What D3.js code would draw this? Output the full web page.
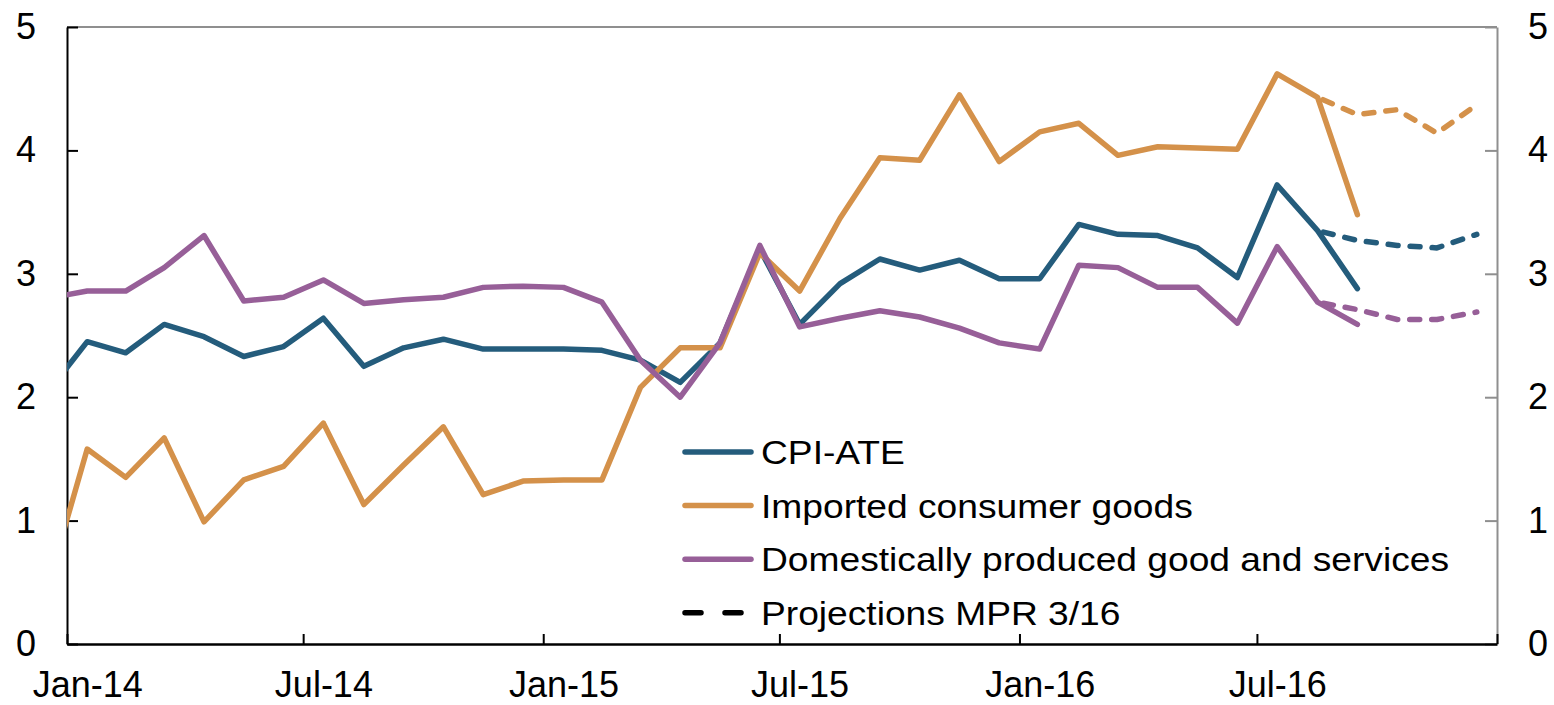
<!DOCTYPE html>
<html>
<head>
<meta charset="utf-8">
<script src="https://cdnjs.cloudflare.com/ajax/libs/d3/7.8.5/d3.min.js"></script>
<style>
  body { margin: 0; background: #fff; }
  text { font-family: "Liberation Sans", Arial, sans-serif; fill: #000; }
</style>
</head>
<body>
<div id="chart"></div>
<script>
// monthly values, first one is Dec-13 (left of the axis, gets clipped)
const firstMonth = new Date(2013, 11, 1);
const cpiAte = [2.03, 2.45, 2.36, 2.59, 2.49, 2.33, 2.41, 2.64, 2.25, 2.40, 2.47, 2.39, 2.39,
                2.39, 2.38, 2.30, 2.12, 2.44, 3.20, 2.59, 2.92, 3.12, 3.03, 3.11, 2.96,
                2.96, 3.40, 3.32, 3.31, 3.21, 2.97, 3.72, 3.35, 2.88];
const imported = [0.44, 1.58, 1.35, 1.67, 0.99, 1.33, 1.44, 1.79, 1.13, 1.45, 1.76, 1.21, 1.32,
                  1.33, 1.33, 2.08, 2.40, 2.40, 3.17, 2.86, 3.45, 3.94, 3.92, 4.45, 3.91,
                  4.15, 4.22, 3.96, 4.03, 4.02, 4.01, 4.62, 4.43, 3.48];
const domestic = [2.80, 2.86, 2.86, 3.05, 3.31, 2.78, 2.81, 2.95, 2.76, 2.79, 2.81, 2.89, 2.90,
                  2.89, 2.77, 2.30, 2.00, 2.44, 3.23, 2.57, 2.64, 2.70, 2.65, 2.56, 2.44,
                  2.39, 3.07, 3.05, 2.89, 2.89, 2.60, 3.22, 2.77, 2.59];

// projections MPR 3/16, Aug-16 to Dec-16
const projStart = new Date(2016, 7, 1);
const projCpiAte = [3.35, 3.27, 3.23, 3.21, 3.32];
const projImported = [4.43, 4.29, 4.33, 4.14, 4.37];
const projDomestic = [2.77, 2.71, 2.63, 2.63, 2.69];

const seriesNames = ["CPI-ATE", "Imported consumer goods", "Domestically produced good and services"];
const seriesColors = ["#245c7c", "#d4914a", "#975f98"];
const projName = "Projections MPR 3/16";
const yTicks = [0, 1, 2, 3, 4, 5];

const width = 1554;
const height = 705;
const plotLeft = 67, plotRight = 1497, plotTop = 27, plotBottom = 644;

const svg = d3.select("#chart").append("svg")
  .attr("width", width)
  .attr("height", height);

const x = d3.scaleTime()
  .domain([new Date(2014, 0, 1), new Date(2017, 0, 1)])
  .range([plotLeft, plotRight]);

const y = d3.scaleLinear()
  .domain([0, 5])
  .range([plotBottom, plotTop]);

// points sit in the middle of their month
function midMonth(d) {
  const next = d3.timeMonth.offset(d, 1);
  return new Date((d.getTime() + next.getTime()) / 2);
}

function toPoints(start, values) {
  return values.map((v, i) => ({ date: d3.timeMonth.offset(start, i), value: v }));
}

const line = d3.line()
  .x(d => x(midMonth(d.date)))
  .y(d => y(d.value));

svg.append("clipPath")
  .attr("id", "plot-clip")
  .append("rect")
  .attr("x", plotLeft)
  .attr("y", 0)
  .attr("width", plotRight - plotLeft)
  .attr("height", height);

// frame: top and right in grey
svg.append("line")
  .attr("x1", plotLeft).attr("x2", plotRight)
  .attr("y1", plotTop).attr("y2", plotTop)
  .attr("stroke", "#8f8f8f")
  .attr("stroke-width", 2);

// right axis
const rightAxis = svg.append("g")
  .attr("transform", `translate(${plotRight},0)`)
  .call(d3.axisRight(y).tickValues(yTicks).tickFormat(d3.format("d"))
    .tickSizeInner(-12).tickSizeOuter(0).tickPadding(31));
rightAxis.select(".domain").attr("stroke", "#8f8f8f").attr("stroke-width", 2);
rightAxis.selectAll(".tick line").attr("stroke", "#8f8f8f").attr("stroke-width", 2);
rightAxis.selectAll("text").style("font-size", "36px").attr("fill", "#000");

// left axis
const leftAxis = svg.append("g")
  .attr("transform", `translate(${plotLeft},0)`)
  .call(d3.axisLeft(y).tickValues(yTicks).tickFormat(d3.format("d"))
    .tickSizeInner(-11).tickSizeOuter(0).tickPadding(31));
leftAxis.select(".domain").attr("stroke", "#000").attr("stroke-width", 2);
leftAxis.selectAll(".tick line").attr("stroke", "#000").attr("stroke-width", 2);
leftAxis.selectAll("text").style("font-size", "36px").attr("fill", "#000");

// bottom axis: tick marks at half-year boundaries, labels under the month
const xTicks = d3.timeMonth.every(6).range(new Date(2014, 0, 1), new Date(2017, 0, 2));
const bottomAxis = svg.append("g")
  .attr("transform", `translate(0,${plotBottom})`)
  .call(d3.axisBottom(x)
    .tickValues(xTicks)
    .tickSizeInner(-10)
    .tickSizeOuter(0)
    .tickFormat(d => d.getFullYear() < 2017 ? d3.timeFormat("%b-%y")(d) : ""));
bottomAxis.select(".domain").attr("stroke", "#000").attr("stroke-width", 2.5);
bottomAxis.selectAll(".tick line").attr("stroke", "#000").attr("stroke-width", 2);
bottomAxis.selectAll("text")
  .attr("x", d => x(midMonth(d)) - x(d))
  .attr("y", 53)
  .attr("dy", 0)
  .style("font-size", "36px")
  .attr("fill", "#000");

const plot = svg.append("g").attr("clip-path", "url(#plot-clip)");

const actual = [cpiAte, imported, domestic];
const projections = [projCpiAte, projImported, projDomestic];

actual.forEach((values, i) => {
  plot.append("path")
    .datum(toPoints(firstMonth, values))
    .attr("fill", "none")
    .attr("stroke", seriesColors[i])
    .attr("stroke-width", 5.5)
    .attr("stroke-linejoin", "round")
    .attr("stroke-linecap", "round")
    .attr("d", line);
});

projections.forEach((values, i) => {
  plot.append("path")
    .datum(toPoints(projStart, values))
    .attr("fill", "none")
    .attr("stroke", seriesColors[i])
    .attr("stroke-width", 5.5)
    .attr("stroke-dasharray", "10,12")
    .attr("stroke-dashoffset", -6)
    .attr("stroke-linecap", "round")
    .attr("stroke-linejoin", "round")
    .attr("d", line);
});

// legend
const legendX = 685, legendY = 452, legendStep = 53.6;
const legend = svg.append("g");
const legendItems = seriesNames.map((n, i) => ({ name: n, color: seriesColors[i], dash: null }))
  .concat([{ name: projName, color: "#000", dash: "16,24" }]);

legendItems.forEach((d, i) => {
  const ly = legendY + i * legendStep;
  legend.append("line")
    .attr("x1", legendX)
    .attr("x2", d.dash ? legendX + 59 : legendX + 66)
    .attr("y1", ly).attr("y2", ly)
    .attr("stroke", d.color)
    .attr("stroke-width", 5.5)
    .attr("stroke-linecap", "round")
    .attr("stroke-dasharray", d.dash);
  // text is a little wider than tall in the reference
  legend.append("text")
    .attr("transform", `translate(761,${ly}) scale(1.11,1)`)
    .attr("dy", "0.36em")
    .style("font-size", "33.5px")
    .text(d.name);
});
</script>
</body>
</html>
